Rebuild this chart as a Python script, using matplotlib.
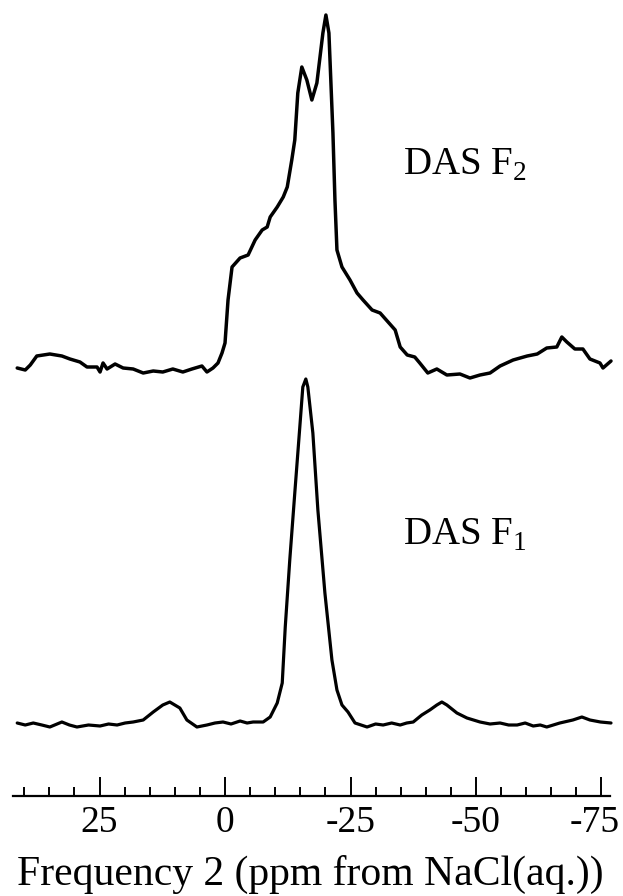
import numpy as np
import matplotlib.pyplot as plt
import matplotlib.transforms as mtransforms

plt.rcParams['font.family'] = 'Liberation Serif'
plt.rcParams['mathtext.fontset'] = 'custom'
plt.rcParams['mathtext.rm'] = 'Liberation Serif'
plt.rcParams['axes.unicode_minus'] = False

# DAS F2 projection (ppm, relative intensity)
f2_ppm = [41.4, 39.8, 38.8, 37.5, 34.9, 32.5, 30.9, 28.9, 27.5, 25.5, 24.9, 24.3,
          23.5, 21.9, 20.3, 18.3, 16.3, 14.3, 12.4, 10.4, 8.4, 6.6, 4.6, 3.6, 2.4,
          1.4, 0.6, 0.0, -0.6, -1.4, -3.0, -4.6, -6.0, -7.4, -8.4, -9.0, -10.4,
          -11.6, -12.4, -13.3, -13.9, -14.5, -15.3, -16.3, -17.3, -18.3, -19.5,
          -20.1, -20.7, -21.5, -21.9, -22.3, -23.3, -24.9, -26.3, -27.5, -29.3,
          -30.9, -33.9, -34.9, -36.3, -37.8, -38.8, -40.4, -42.2, -44.2, -46.8,
          -48.8, -50.8, -52.8, -54.8, -57.4, -60.2, -62.2, -64.1, -66.1, -67.1,
          -68.1, -69.7, -71.3, -72.7, -74.7, -75.3, -76.9]
f2_int = [2, 0, 5, 14, 16, 14, 11, 8, 3, 3, -2, 7,
          1, 6, 2, 1, -3, -1, -2, 1, -2, 1, 4, -2, 2,
          7, 17, 27, 70, 103, 112, 115, 130, 140, 143, 153, 163,
          173, 183, 210, 230, 277, 303, 290, 270, 287, 337,
          355, 337, 237, 170, 120, 103, 90, 77, 70, 60,
          57, 40, 23, 15, 13, 7, -3, 1, -5, -4,
          -8, -5, -3, 4, 10, 14, 16, 22, 23, 33,
          28, 21, 21, 11, 7, 2, 9]

# DAS F1 projection (ppm, relative intensity)
f1_ppm = [41.4, 39.8, 38.2, 36.5, 34.9, 32.5, 31.0, 29.5, 27.2, 24.9, 23.2, 21.5,
          19.9, 18.3, 16.3, 14.3, 12.4, 11.0, 9.0, 7.6, 5.6, 3.6, 2.0, 0.4, -1.2,
          -3.0, -4.4, -5.6, -7.6, -9.0, -9.4, -10.4, -11.4, -12.0, -12.9, -13.9,
          -14.9, -15.5, -16.1, -16.5, -17.5, -18.5, -19.9, -21.3, -22.3, -23.3,
          -24.5, -25.9, -27.1, -28.3, -30.0, -31.5, -33.2, -34.9, -36.2, -37.5,
          -39.2, -40.8, -42.2, -43.2, -44.2, -46.2, -48.2, -50.8, -52.8, -54.8,
          -56.5, -58.2, -59.8, -61.4, -62.8, -64.1, -66.7, -69.3, -71.1, -72.7,
          -74.8, -76.9]
f1_int = [2, 0, 2, 0, -2, 3, 0, -2, 0, -1, 1, 0,
          2, 3, 5, 13, 20, 23, 17, 5, -2, 0, 2, 3, 1,
          4, 2, 3, 3, 8, 12, 22, 42, 98, 165, 232,
          298, 338, 346, 338, 292, 215, 132, 65, 35, 20,
          13, 2, 0, -2, 1, 0, 2, 0, 2, 3,
          10, 15, 20, 23, 20, 12, 7, 3, 1, 2,
          0, 0, 2, -1, 0, -2, 2, 5, 8, 5,
          3, 2]

major_ticks = [25, 0, -25, -50, -75]

fig = plt.figure(figsize=(6.23, 8.96), dpi=100)
ax = fig.add_axes([12.7 / 623, 100 / 896, 597.3 / 623, 796 / 896])

ax.plot(f2_ppm, np.array(f2_int) + 426, color='black', lw=2.5,
        solid_joinstyle='round', solid_capstyle='round', clip_on=False)
ax.plot(f1_ppm, np.array(f1_int) + 71, color='black', lw=2.3,
        solid_joinstyle='round', solid_capstyle='round', clip_on=False)

ax.text(-35.5, 621, r'DAS F$_{\mathrm{2}}$', fontsize=28, ha='left', va='baseline')
ax.text(-35.5, 251, r'DAS F$_{\mathrm{1}}$', fontsize=28, ha='left', va='baseline')

ax.set_xlim(42.3, -76.7)
ax.set_ylim(0, 796)
for s in ['left', 'right', 'top']:
    ax.spines[s].set_visible(False)
ax.spines['bottom'].set_linewidth(1.6)
ax.set_yticks([])
ax.set_xticks(major_ticks)
ax.set_xticks(np.arange(40, -80, -5), minor=True)
ax.tick_params(axis='x', which='major', direction='in', length=14, width=1.4,
               labelsize=27, pad=7)
ax.tick_params(axis='x', which='minor', direction='in', length=6.5, width=1.4)

# last label sits against the right edge in the original
last = ax.xaxis.get_major_ticks()[-1].label1
last.set_transform(last.get_transform()
                   + mtransforms.ScaledTranslation(-0.07, 0, fig.dpi_scale_trans))

ax.set_xlabel('Frequency 2 (ppm from NaCl(aq.))', fontsize=30, va='baseline')
ax.xaxis.set_label_coords(0.498, -0.1118)

fig.savefig('out.png', dpi=100)
